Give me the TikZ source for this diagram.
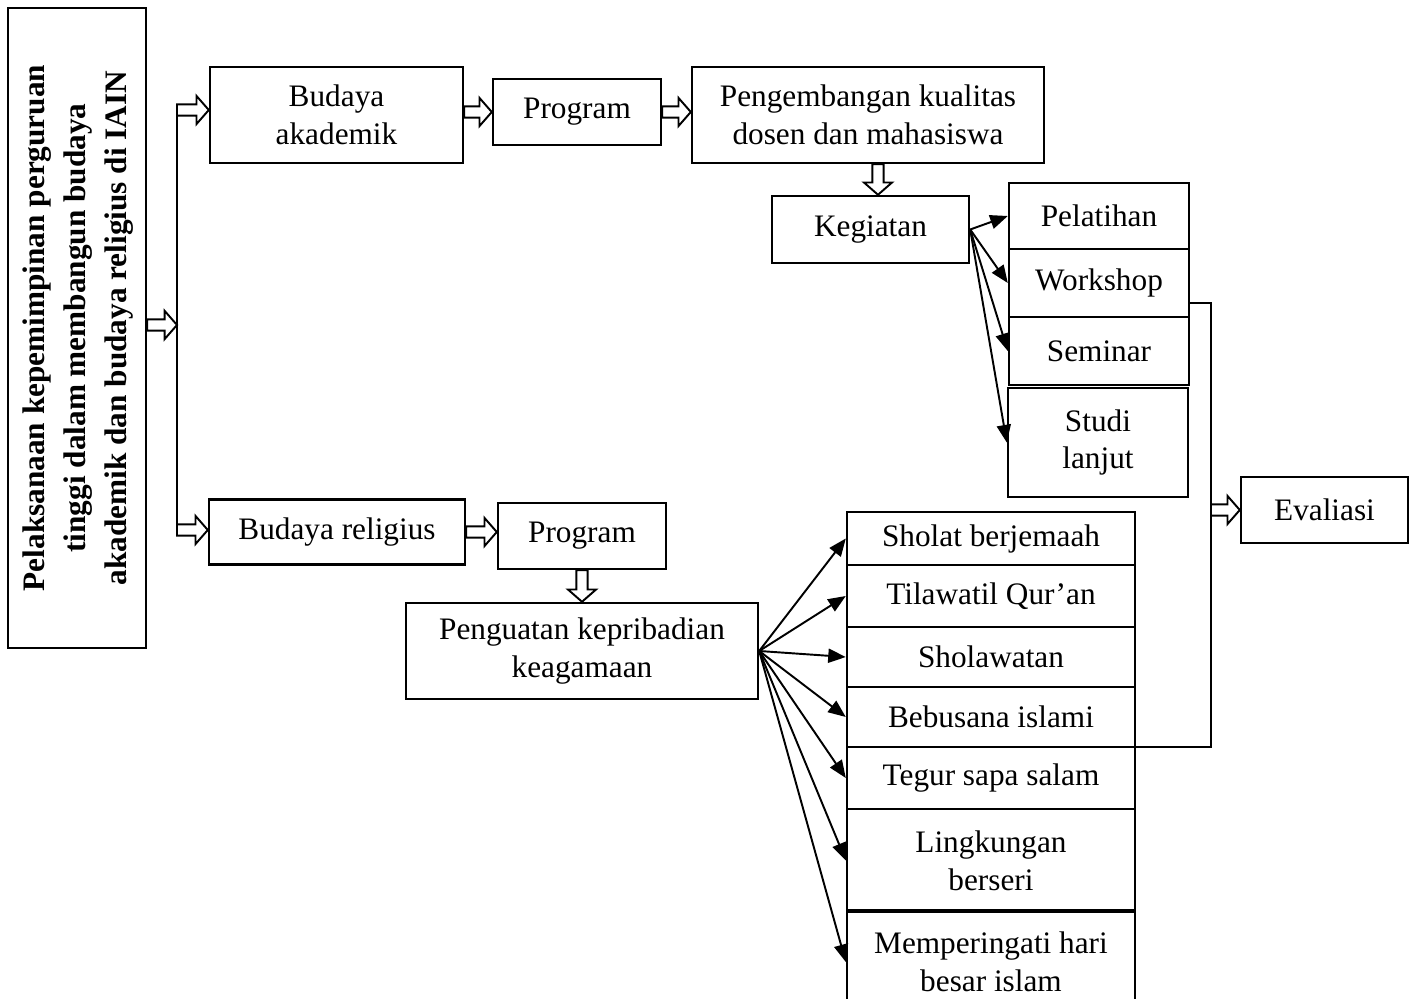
\documentclass[tikz,border=0pt]{standalone}
\usepackage{fontspec}
\setmainfont{Liberation Serif}
\usetikzlibrary{arrows.meta,calc}
\tikzset{
  box/.style={draw,line width=1.4pt,align=center,inner sep=0pt},
  hollow/.style={line width=1.1pt,to path={
      ($(\tikztostart)!3.2pt!90:(\tikztotarget)$)
      -- ($(\tikztotarget)!7pt!(\tikztostart)!3.2pt!-90:(\tikztostart)$)
      -- ($(\tikztotarget)!7pt!(\tikztostart)!8pt!-90:(\tikztostart)$)
      -- (\tikztotarget)
      -- ($(\tikztotarget)!7pt!(\tikztostart)!8pt!90:(\tikztostart)$)
      -- ($(\tikztotarget)!7pt!(\tikztostart)!3.2pt!90:(\tikztostart)$)
      -- ($(\tikztostart)!3.2pt!-90:(\tikztotarget)$) -- cycle}},
  fan/.style={line width=1.1pt,-{Triangle[length=10pt,width=8pt]}},
  thinline/.style={line width=0.6pt}
}
\begin{document}
\begin{tikzpicture}[x=0.02cm,y=-0.02cm,every node/.style={font=\fontsize{17.8pt}{21.6pt}\selectfont}]
    \fill[white] (0,0) rectangle (1414,999);
    \useasboundingbox (0,0) rectangle (1414,999);
    % kolom kiri
    \node[box,minimum width=2.76cm,minimum height=12.8cm] (main) at (77,328)
        {\rotatebox{90}{\fontsize{17.8pt}{23.4pt}\selectfont\bfseries\begin{tabular}{@{}c@{}}Pelaksanaan kepemimpinan perguruan\\tinggi dalam membangun budaya\\akademik dan budaya religius di IAIN\end{tabular}}};
    \coordinate (ttop) at (177,110);
    \coordinate (tmid) at (177,325);
    \coordinate (tbot) at (177,530);
    % budaya akademik
    \node[box,minimum width=5.06cm,minimum height=1.92cm] (akad) at (336.5,115) {Budaya\\akademik};
    \node[box,minimum width=3.36cm,minimum height=1.32cm] (prog1) at (577,112) {Program};
    \node[box,minimum width=7.04cm,minimum height=1.92cm] (kual) at (868,115) {Pengembangan kualitas\\dosen dan mahasiswa};
    \node[box,minimum width=3.94cm,minimum height=1.34cm] (keg) at (870.5,229.5) {Kegiatan};
    \node[box,minimum width=3.6cm,minimum height=1.32cm] (pelat) at (1099,216) {Pelatihan};
    \node[box,minimum width=3.6cm,minimum height=1.36cm] (work) at (1099,283) {Workshop};
    \node[box,minimum width=3.6cm,minimum height=1.36cm] (sem) at (1099,351) {Seminar};
    \node[box,minimum width=3.6cm,minimum height=2.18cm] (studi) at (1098,442.5) {Studi\\lanjut};
    \node[box,minimum width=3.34cm,minimum height=1.32cm] (eval) at (1324.5,510) {Evaliasi};
    % budaya religius
    \node[box,minimum width=5.12cm,minimum height=1.3cm] (relig) at (337,532) {Budaya religius};
    \node[box,minimum width=3.36cm,minimum height=1.32cm] (prog2) at (582,536) {Program};
    \node[box,minimum width=7.04cm,minimum height=1.92cm] (kuat) at (582,651) {Penguatan kepribadian\\keagamaan};
    \node[box,minimum width=5.76cm,minimum height=1.06cm] (sholat) at (991,538.5) {Sholat berjemaah};
    \node[box,minimum width=5.76cm,minimum height=1.24cm] (tila) at (991,596) {Tilawatil Qur’an};
    \node[box,minimum width=5.76cm,minimum height=1.2cm] (sholaw) at (991,657) {Sholawatan};
    \node[box,minimum width=5.76cm,minimum height=1.2cm] (busana) at (991,717) {Bebusana islami};
    \node[box,minimum width=5.76cm,minimum height=1.24cm] (tegur) at (991,778) {Tegur sapa salam};
    \node[box,minimum width=5.76cm,minimum height=2.06cm] (lingk) at (991,860.5) {Lingkungan\\berseri};
    \node[box,minimum width=5.76cm,minimum height=2.06cm] (hari) at (991,962) {Memperingati hari\\besar islam};
    % panah blok
    \draw[thinline] (ttop) -- (tbot);
    \draw[hollow] (main.east |- tmid) to (tmid);
    \draw[hollow] (ttop) to (ttop -| akad.west);
    \draw[hollow] (tbot) to (tbot -| relig.west);
    \draw[hollow] (prog1.west -| akad.east) to (prog1.west);
    \draw[hollow] (prog1.east) to (prog1.east -| kual.west);
    \draw[hollow] ([xshift=0.15cm]keg.north |- kual.south) to ([xshift=0.15cm]keg.north);
    \draw[hollow] (relig.east) to (relig.east -| prog2.west);
    \draw[hollow] (prog2.south) to (prog2.south |- kuat.north);
    % kegiatan
    \foreach \t in {pelat,work,sem,studi} {\draw[fan] (keg.east) -- (\t.west);}
    \foreach \t in {sholat,tila,sholaw,busana,tegur,lingk,hari} {\draw[fan] (kuat.east) -- (\t.west);}
    % evaluasi
    \coordinate (evtop) at (1211,303);
    \coordinate (evbot) at (1211,747);
    \draw[thinline] (work.east |- evtop) -- (evtop) -- (evbot) -- (evbot -| busana.east);
    \draw[hollow] (evtop |- eval.west) to (eval.west);
\end{tikzpicture}
\end{document}
